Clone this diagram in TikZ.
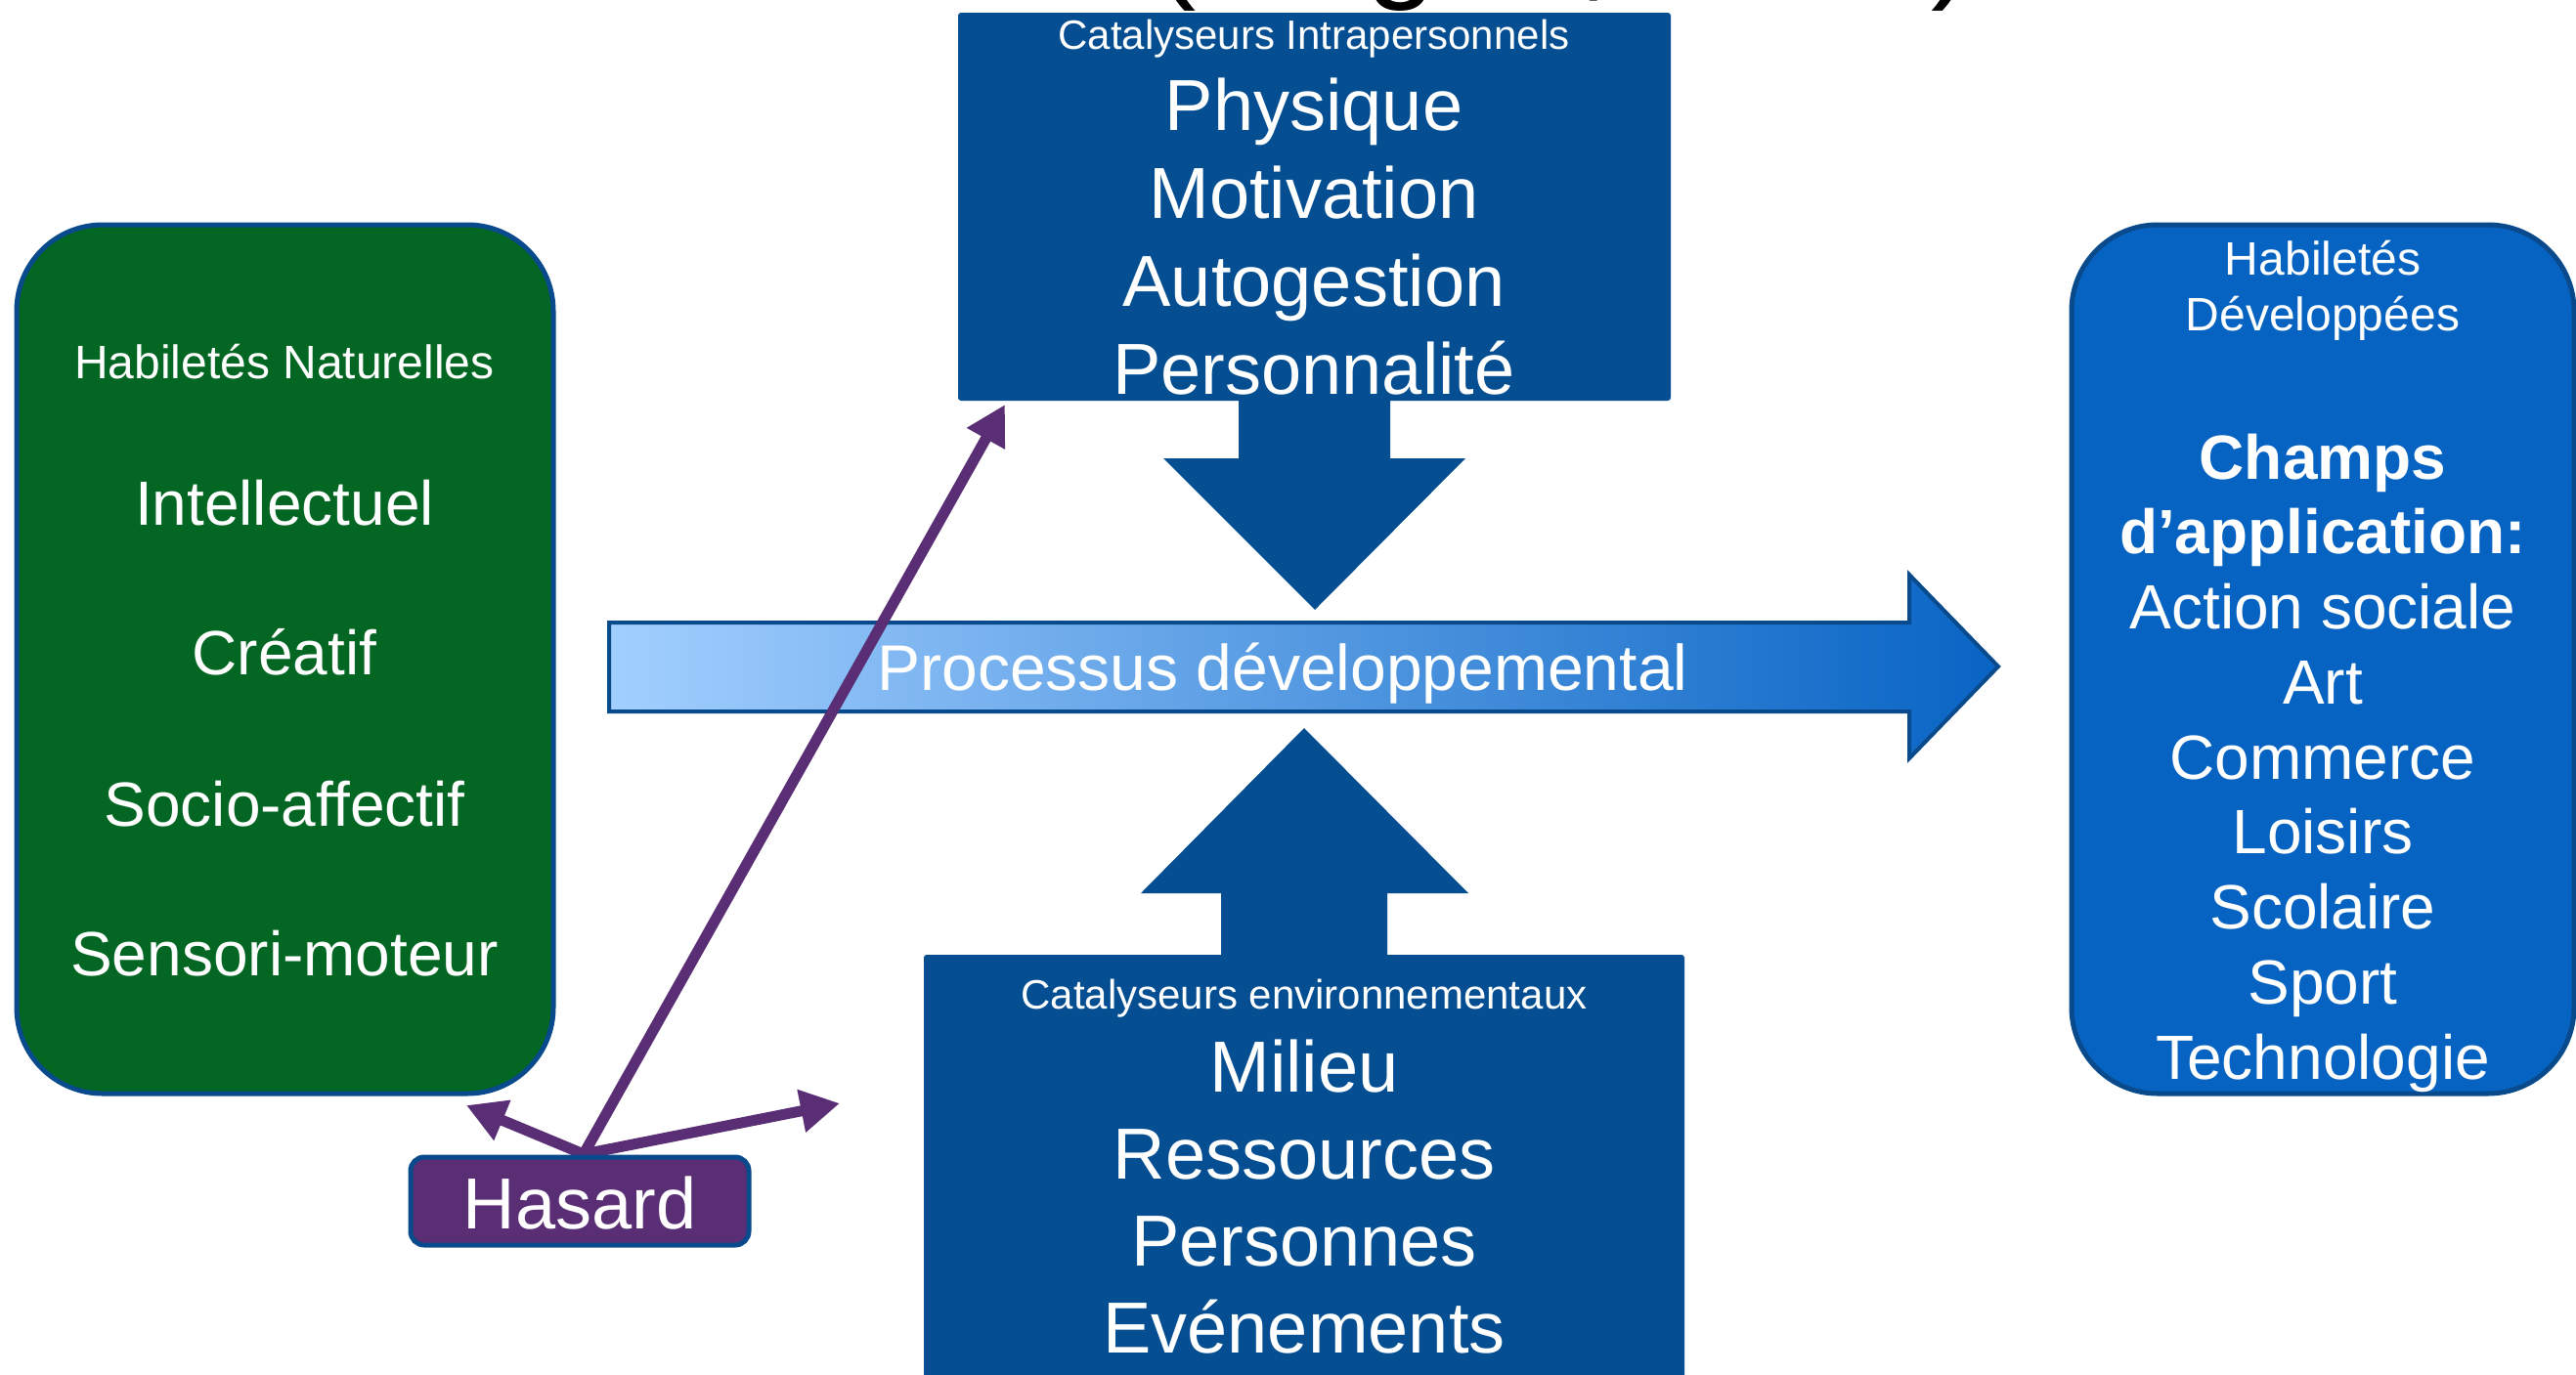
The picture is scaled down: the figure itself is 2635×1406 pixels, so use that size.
\documentclass[tikz,border=0pt]{standalone}
\usepackage{fontspec}
\setmainfont{Liberation Sans}
\usetikzlibrary{arrows.meta,calc}
\definecolor{dblue}{RGB}{4,78,145}
\definecolor{edgeblue}{RGB}{8,74,140}
\definecolor{dgreen}{RGB}{3,102,35}
\definecolor{mblue}{RGB}{6,99,193}
\definecolor{purp}{RGB}{90,46,117}
\definecolor{lblue}{RGB}{162,207,255}
\definecolor{gblue}{RGB}{8,100,196}
\newcommand\fsz[1]{\fontsize{#1}{#1}\selectfont}
\tikzset{
  txt/.style={text=white, anchor=base, inner sep=0pt},
  bigbox/.style={draw=edgeblue, line width=5pt, rounded corners=88pt},
  parrow/.style={draw=purp, line width=11pt, -{Triangle[length=40pt,width=42pt]}},
}
\begin{document}
\begin{tikzpicture}[x=1pt,y=-1pt]
\clip (0,0) rectangle (2635,1406);
\fill[white] (0,0) rectangle (2635,1406);

% cut-off title
\node[anchor=base, text=black, inner sep=0pt, font=\fsz{130}] (title) at (1600,-16) {(Gagné, 2003)};

% left green box
\path[bigbox, fill=dgreen] (17,230) rectangle (566,1119);
\node[txt, font=\fsz{48}] (hn) at (291,387) {Habiletés Naturelles};
\node[txt, font=\fsz{64}] (n1) at (291,537) {Intellectuel};
\node[txt, font=\fsz{64}] (n2) at (291,690) {Créatif};
\node[txt, font=\fsz{64}] (n3) at (291,845) {Socio-affectif};
\node[txt, font=\fsz{64}] (n4) at (291,998) {Sensori-moteur};

% right blue box
\path[bigbox, fill=mblue] (2119,230) rectangle (2633,1119);
\node[txt, font=\fsz{48}] (hd1) at (2376,281) {Habiletés};
\node[txt, font=\fsz{48}] (hd2) at (2376,338) {Développées};
\node[txt, font=\bfseries\fsz{64}] (c1) at (2376,490) {Champs};
\node[txt, font=\bfseries\fsz{64}] (c2) at (2376,566.75) {d’application:};
\node[txt, font=\fsz{64}] (c3) at (2376,643.5) {Action sociale};
\node[txt, font=\fsz{64}] (c4) at (2376,720.25) {Art};
\node[txt, font=\fsz{64}] (c5) at (2376,797) {Commerce};
\node[txt, font=\fsz{64}] (c6) at (2376,873.75) {Loisirs};
\node[txt, font=\fsz{64}] (c7) at (2376,950.5) {Scolaire};
\node[txt, font=\fsz{64}] (c8) at (2376,1027.25) {Sport};
\node[txt, font=\fsz{64}] (c9) at (2376,1104) {Technologie};

% top box + down arrow
\fill[dblue, rounded corners=3pt] (980,13) rectangle (1709,410);
\fill[dblue] (1267,405) -- (1267,469) -- (1190,469) -- (1345,624) -- (1499,469) -- (1422,469) -- (1422,405) -- cycle;
\node[txt, font=\fsz{42}] (ti) at (1344,50) {Catalyseurs Intrapersonnels};
\node[txt, font=\fsz{74}] (t1) at (1344,133) {Physique};
\node[txt, font=\fsz{74}] (t2) at (1344,223) {Motivation};
\node[txt, font=\fsz{74}] (t3) at (1344,313) {Autogestion};
\node[txt, font=\fsz{74}] (t4) at (1344,403) {Personnalité};

% bottom box + up arrow
\fill[dblue, rounded corners=3pt] (945,977) rectangle (1723,1440);
\fill[dblue] (1249,982) -- (1249,914) -- (1167,914) -- (1334,745) -- (1502,914) -- (1419,914) -- (1419,982) -- cycle;
\node[txt, font=\fsz{42}] (be) at (1334,1032) {Catalyseurs environnementaux};
\node[txt, font=\fsz{74}] (b1) at (1334,1117) {Milieu};
\node[txt, font=\fsz{74}] (b2) at (1334,1206) {Ressources};
\node[txt, font=\fsz{74}] (b3) at (1334,1295) {Personnes};
\node[txt, font=\fsz{74}] (b4) at (1334,1384) {Evénements};

% main process arrow
\path[draw=edgeblue, line width=4pt, left color=lblue, right color=gblue, line join=miter]
  (623,637) -- (1953,637) -- (1953,588) -- (2044,682) -- (1953,776) -- (1953,728) -- (623,728) -- cycle;
\node[txt, font=\fsz{66}] (proc) at (1312,706) {Processus développemental};

% hasard arrows
\coordinate (hzo) at (597,1181);
\coordinate (tgtop) at (1028,414);
\coordinate (tgleft) at (477,1131);
\coordinate (tgright) at (859,1129);
\draw[parrow] (hzo) -- (tgleft);
\draw[parrow] (hzo) -- (tgright);
\draw[parrow] (hzo) -- (tgtop);

% hasard box
\path[draw=edgeblue, line width=5pt, fill=purp, rounded corners=14pt] (420,1184) rectangle (766,1274);
\node[txt, font=\fsz{74}] (hasard) at (593,1257) {Hasard};
\end{tikzpicture}
\end{document}
